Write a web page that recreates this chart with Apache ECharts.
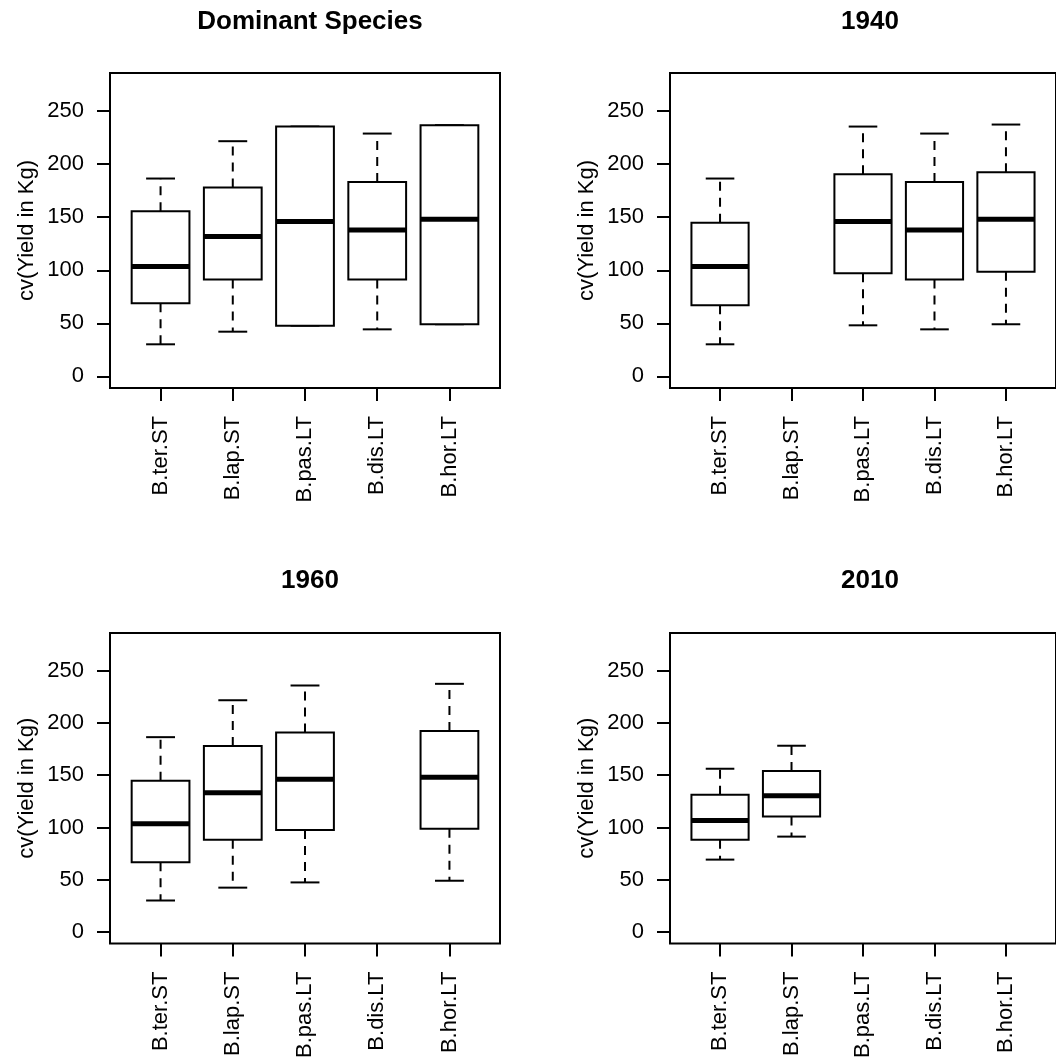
<!DOCTYPE html>
<html>
<head>
<meta charset="utf-8">
<script src="https://cdn.jsdelivr.net/npm/echarts@6/dist/echarts.min.js"></script>
<style>
html,body{margin:0;padding:0;background:#fff;}
#chart{width:1056px;height:1061px;}
</style>
</head>
<body>
<div id="chart"></div>
<script>
// ---- data ----
const categories = ['B.ter.ST', 'B.lap.ST', 'B.pas.LT', 'B.dis.LT', 'B.hor.LT'];
const panelTitles = ['Dominant Species', '1940', '1960', '2010'];
const yTicks = [0, 50, 100, 150, 200, 250];
const yAxisTitle = 'cv(Yield in Kg)';
// each entry: [lowerWhisker, Q1, median, Q3, upperWhisker]; null = no data
const dominantStats = [
  [30.2, 68.9, 103.5, 155.7, 186.5],
  [42.1, 91.2, 131.8, 178.0, 221.7],
  [47.8, 47.8, 145.9, 235.5, 235.5],
  [44.3, 91.2, 138.0, 183.3, 228.9],
  [49.1, 49.1, 148.1, 236.8, 236.8]
];
const stats1940 = [
  [30.2, 67.0, 103.5, 144.7, 186.5],
  null,
  [48.1, 97.2, 145.9, 190.6, 235.5],
  [44.3, 91.2, 138.0, 183.3, 228.9],
  [49.1, 98.7, 148.1, 192.5, 237.4]
];
const stats1960 = [
  [30.2, 66.8, 103.6, 144.8, 186.4],
  [42.5, 88.2, 133.2, 177.9, 221.7],
  [47.5, 97.6, 146.1, 190.8, 235.8],
  null,
  [49.1, 98.9, 148.0, 192.4, 237.4]
];
const stats2010 = [
  [69.3, 88.2, 106.7, 131.3, 156.2],
  [91.3, 110.5, 130.4, 154.0, 178.2],
  null,
  null,
  null
];
const panelStats = [dominantStats, stats1940, stats1960, stats2010];

// ---- layout ----
const FONT = 'Liberation Sans, Arial, Helvetica, sans-serif';
const gridPos = [
  {left: 110, top: 73, width: 390, height: 315},
  {left: 670, top: 73, width: 390, height: 315},
  {left: 110, top: 633, width: 390, height: 314},
  {left: 670, top: 633, width: 390, height: 314}
];
const titleCenters = [[305, 4], [865, 4], [305, 563], [865, 563]];
const catIdx = categories.map((c, i) => i + 1);

function renderBox(params, api) {
  const x = api.value(0);
  const pLo = api.coord([x, api.value(1)]);
  const pQ1 = api.coord([x, api.value(2)]);
  const pMed = api.coord([x, api.value(3)]);
  const pQ3 = api.coord([x, api.value(4)]);
  const pHi = api.coord([x, api.value(5)]);
  const bw = api.size([0.8, 0])[0];
  const cw = bw / 2;
  const cx = pLo[0];
  const dash = {stroke: '#000', lineWidth: 2, lineDash: [9, 7]};
  const solid = {stroke: '#000', lineWidth: 2};
  return {
    type: 'group',
    children: [
      {type: 'line', shape: {x1: cx, y1: pQ3[1], x2: cx, y2: pHi[1]}, style: dash},
      {type: 'line', shape: {x1: cx, y1: pQ1[1], x2: cx, y2: pLo[1]}, style: dash},
      {type: 'line', shape: {x1: cx - cw / 2, y1: pHi[1], x2: cx + cw / 2, y2: pHi[1]}, style: solid},
      {type: 'line', shape: {x1: cx - cw / 2, y1: pLo[1], x2: cx + cw / 2, y2: pLo[1]}, style: solid},
      {type: 'rect', shape: {x: cx - bw / 2, y: pQ3[1], width: bw, height: pQ1[1] - pQ3[1]},
        style: {fill: '#fff', stroke: '#000', lineWidth: 2}},
      {type: 'line', shape: {x1: cx - bw / 2, y1: pMed[1], x2: cx + bw / 2, y2: pMed[1]},
        style: {stroke: '#000', lineWidth: 5}}
    ]
  };
}

const grids = [], xAxes = [], yAxes = [], series = [], titles = [];
panelStats.forEach((stats, i) => {
  grids.push(Object.assign({show: true, borderColor: '#000', borderWidth: 2, backgroundColor: 'transparent', containLabel: false}, gridPos[i]));
  xAxes.push({
    type: 'value', gridIndex: i, min: 0.3, max: 5.7,
    axisLine: {show: false, onZero: false},
    splitLine: {show: false},
    axisTick: {show: true, customValues: catIdx, length: 13, lineStyle: {color: '#000', width: 2}},
    axisLabel: {
      customValues: catIdx, rotate: 90, margin: 28, fontSize: 22, color: '#000', fontFamily: FONT,
      formatter: v => categories[Math.round(v) - 1]
    }
  });
  yAxes.push({
    type: 'value', gridIndex: i, min: -11, max: 286,
    axisLine: {show: false, onZero: false},
    splitLine: {show: false},
    axisTick: {show: true, customValues: yTicks, length: 13, lineStyle: {color: '#000', width: 2}},
    axisLabel: {customValues: yTicks, margin: 26, fontSize: 22, color: '#000', fontFamily: FONT},
    name: yAxisTitle, nameLocation: 'middle', nameGap: 72,
    nameTextStyle: {fontSize: 22, color: '#000', fontFamily: FONT}
  });
  const data = [];
  stats.forEach((s, k) => { if (s) data.push([k + 1].concat(s)); });
  series.push({
    type: 'custom', xAxisIndex: i, yAxisIndex: i, clip: false,
    encode: {x: 0, y: [1, 2, 3, 4, 5]},
    renderItem: renderBox, data: data, silent: true
  });
  titles.push({
    text: panelTitles[i], left: titleCenters[i][0], top: titleCenters[i][1], textAlign: 'center',
    textStyle: {fontSize: 26, fontWeight: 'bold', color: '#000', fontFamily: FONT}
  });
});

const chart = echarts.init(document.getElementById('chart'), null, {renderer: 'canvas'});
chart.setOption({
  animation: false,
  backgroundColor: '#fff',
  title: titles,
  grid: grids,
  xAxis: xAxes,
  yAxis: yAxes,
  series: series
});
</script>
</body>
</html>
